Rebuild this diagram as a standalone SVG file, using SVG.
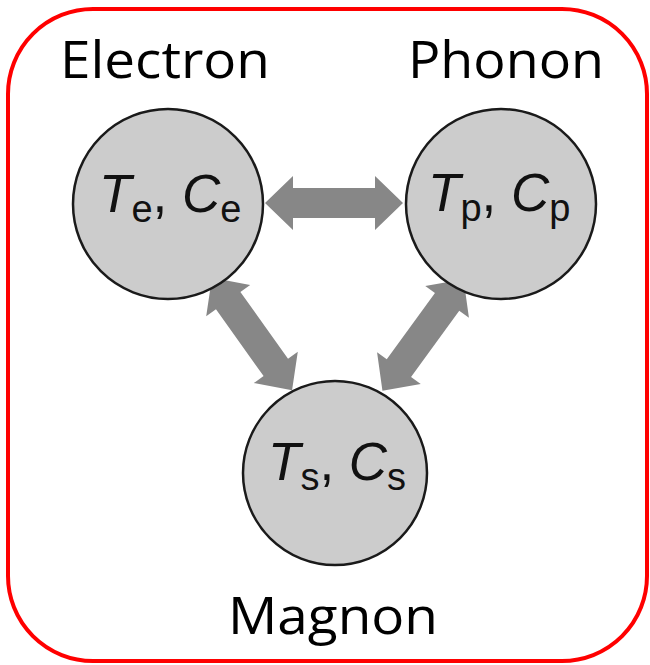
<svg xmlns="http://www.w3.org/2000/svg" width="650" height="665" viewBox="0 0 650 665">
<style>
.node{fill:#cccccc;stroke:#1a1a1a;stroke-width:2.5}
.lbl{font-family:"Liberation Sans",Arial,sans-serif;font-size:53px;fill:#111}
.it{font-style:italic}
.sub{font-size:38px}
.title{font-family:"Open Sans","Noto Sans",sans-serif;font-size:52px;fill:#000}
.arr{fill:#878787}
</style>
<defs>
<polygon id="dbl" points="-69,0 -41,-27 -41,-15 41,-15 41,-27 69,0 41,27 41,15 -41,15 -41,27"/>
</defs>
<rect x="8" y="9" width="639" height="652" rx="85" ry="85" fill="#fff" stroke="#ff0000" stroke-width="4"/>
<text class="title" x="165" y="78" text-anchor="middle" textLength="210" lengthAdjust="spacingAndGlyphs">Electron</text>
<text class="title" x="506" y="78" text-anchor="middle" textLength="196" lengthAdjust="spacingAndGlyphs">Phonon</text>
<text class="title" x="333" y="634" text-anchor="middle" textLength="210" lengthAdjust="spacingAndGlyphs">Magnon</text>
<g id="connectors" class="arr">
<use href="#dbl" transform="translate(334,203)"/>
<use href="#dbl" transform="translate(252,334) rotate(54.5)"/>
<use href="#dbl" transform="translate(423,335) rotate(-54)"/>
</g>
<g id="electron">
<circle class="node" cx="168" cy="204" r="95"/>
<text class="lbl" x="99" y="212"><tspan class="it">T</tspan><tspan class="sub" dy="10">e</tspan><tspan dy="-10">, </tspan><tspan class="it">C</tspan><tspan class="sub" dy="10">e</tspan></text>
</g>
<g id="phonon">
<circle class="node" cx="501" cy="204" r="95"/>
<text class="lbl" x="428" y="211"><tspan class="it">T</tspan><tspan class="sub" dy="10">p</tspan><tspan dy="-10">, </tspan><tspan class="it">C</tspan><tspan class="sub" dy="10">p</tspan></text>
</g>
<g id="magnon">
<circle class="node" cx="335" cy="473" r="92"/>
<text class="lbl" x="268" y="480"><tspan class="it">T</tspan><tspan class="sub" dy="10">s</tspan><tspan dy="-10">, </tspan><tspan class="it">C</tspan><tspan class="sub" dy="10">s</tspan></text>
</g>
</svg>
